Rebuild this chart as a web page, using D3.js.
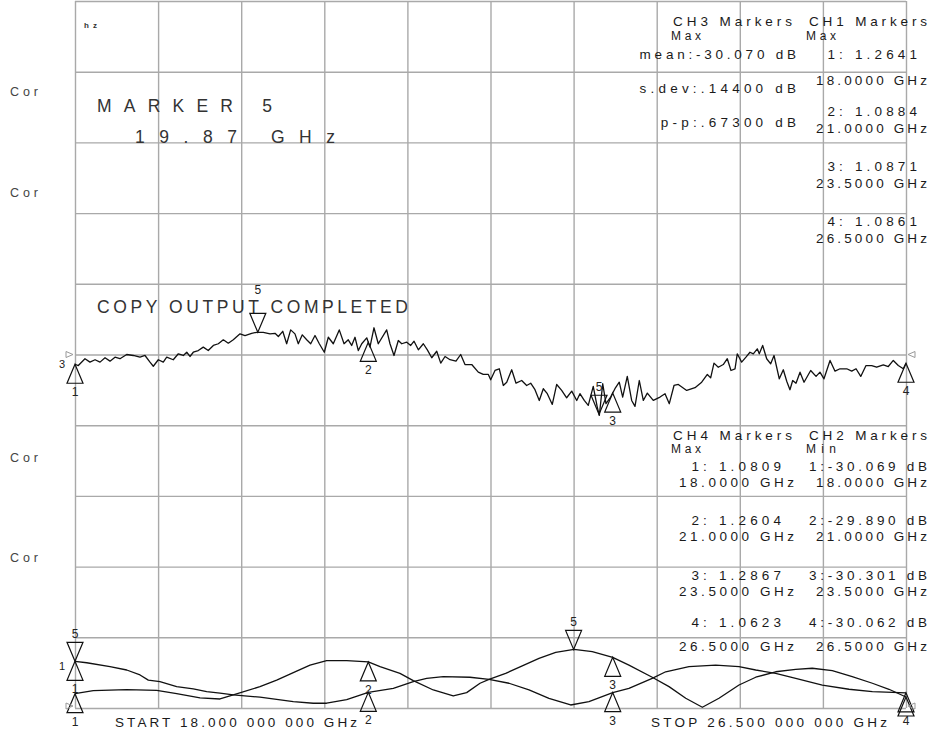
<!DOCTYPE html>
<html>
<head>
<meta charset="utf-8">
<script src="https://cdn.jsdelivr.net/npm/d3@7"></script>
<style>
  body { margin: 0; background: #fff; }
  text { font-family: "Liberation Sans", Arial, sans-serif; }
</style>
</head>
<body>
<script>
// sweep 18 - 26.5 GHz, two dB traces (CH3/CH2) and two SWR traces (CH1/CH4)
let ch3Freq = [18.000, 18.034, 18.102, 18.153, 18.205, 18.256, 18.307, 18.358, 18.409, 18.460,
	18.529, 18.596, 18.665, 18.716, 18.767, 18.801, 18.852, 18.903, 18.938, 19.005,
	19.057, 19.108, 19.143, 19.176, 19.210, 19.261, 19.312, 19.363, 19.415, 19.466,
	19.517, 19.568, 19.619, 19.688, 19.739, 19.807, 19.859, 19.926, 19.995, 20.046,
	20.080, 20.125, 20.165, 20.206, 20.250, 20.284, 20.325, 20.370, 20.411, 20.455,
	20.499, 20.550, 20.591, 20.642, 20.703, 20.752, 20.795, 20.830, 20.864, 20.898,
	20.933, 20.984, 21.017, 21.058, 21.102, 21.188, 21.222, 21.263, 21.307, 21.342,
	21.393, 21.434, 21.468, 21.512, 21.563, 21.604, 21.649, 21.700, 21.741, 21.785,
	21.836, 21.897, 21.945, 21.989, 22.058, 22.125, 22.176, 22.228, 22.252, 22.296,
	22.340, 22.381, 22.416, 22.467, 22.511, 22.569, 22.620, 22.661, 22.705, 22.749,
	22.790, 22.831, 22.882, 22.927, 22.978, 23.029, 23.081, 23.132, 23.165, 23.209,
	23.250, 23.301, 23.342, 23.363, 23.398, 23.431, 23.479, 23.523, 23.567, 23.602,
	23.649, 23.694, 23.728, 23.772, 23.813, 23.854, 23.915, 23.984, 24.035, 24.079,
	24.127, 24.171, 24.257, 24.342, 24.410, 24.468, 24.502, 24.536, 24.580, 24.631,
	24.672, 24.710, 24.751, 24.774, 24.819, 24.863, 24.904, 24.938, 24.979, 24.999,
	25.034, 25.075, 25.116, 25.150, 25.204, 25.245, 25.280, 25.313, 25.341, 25.375,
	25.416, 25.457, 25.525, 25.580, 25.620, 25.661, 25.723, 25.774, 25.825, 25.894,
	25.945, 25.989, 26.037, 26.091, 26.149, 26.200, 26.268, 26.319, 26.370, 26.421,
	26.472, 26.500];
let ch3Db = [-30.069, -30.078, -30.030, -30.054, -30.037, -30.054, -30.023, -30.047, -30.019, -30.030,
	-30.000, -30.007, -30.019, -30.007, -30.054, -30.083, -30.037, -30.054, -30.019, -30.037,
	-29.995, -30.007, -29.984, -30.014, -29.984, -29.972, -29.948, -29.972, -29.936, -29.924,
	-29.896, -29.920, -29.896, -29.854, -29.866, -29.850, -29.843, -29.843, -29.854, -29.850,
	-29.873, -29.836, -29.924, -29.826, -29.854, -29.924, -29.861, -29.896, -29.924, -29.866,
	-29.924, -29.984, -29.878, -29.924, -29.826, -29.924, -29.896, -29.936, -29.878, -29.972,
	-29.924, -29.882, -29.948, -29.811, -29.924, -29.826, -29.924, -30.007, -29.901, -29.924,
	-29.913, -29.936, -29.906, -29.967, -29.924, -29.967, -30.023, -29.977, -30.061, -30.014,
	-30.037, -30.047, -30.000, -30.071, -30.071, -30.125, -30.141, -30.141, -30.179, -30.113,
	-30.101, -30.219, -30.196, -30.108, -30.203, -30.184, -30.219, -30.203, -30.249, -30.325,
	-30.242, -30.277, -30.353, -30.212, -30.254, -30.306, -30.259, -30.325, -30.277, -30.325,
	-30.360, -30.226, -30.372, -30.431, -30.207, -30.348, -30.301, -30.242, -30.196, -30.301,
	-30.155, -30.325, -30.367, -30.184, -30.325, -30.273, -30.325, -30.301, -30.277, -30.348,
	-30.219, -30.212, -30.254, -30.235, -30.196, -30.141, -30.165, -30.061, -30.090, -30.071,
	-30.030, -30.113, -30.101, -29.995, -30.054, -30.019, -29.984, -29.995, -29.960, -29.995,
	-29.936, -30.030, -30.066, -30.007, -30.172, -30.108, -30.189, -30.249, -30.184, -30.203,
	-30.125, -30.196, -30.113, -30.155, -30.125, -30.172, -30.042, -30.118, -30.101, -30.101,
	-30.118, -30.101, -30.155, -30.078, -30.078, -30.090, -30.073, -30.085, -30.042, -30.078,
	-30.101, -30.062];

let ch1Freq = [18.000, 18.120, 18.358, 18.529, 18.665, 18.750, 18.869, 19.040, 19.210, 19.347,
	19.483, 19.619, 19.892, 20.233, 20.437, 20.574, 20.779, 21.000, 21.256, 21.460,
	21.597, 21.767, 22.040, 22.235, 22.439, 22.644, 22.848, 23.070, 23.257, 23.500,
	23.666, 23.904, 24.042, 24.280, 24.553, 24.792, 24.963, 25.167, 25.372, 25.644,
	25.917, 26.156, 26.500];
let ch1Swr = [1.2641, 1.256, 1.234, 1.215, 1.187, 1.158, 1.149, 1.121, 1.108, 1.093,
	1.084, 1.074, 1.061, 1.036, 1.027, 1.027, 1.047, 1.0884, 1.111, 1.149,
	1.168, 1.177, 1.174, 1.162, 1.140, 1.102, 1.055, 1.017, 1.036, 1.0871,
	1.111, 1.168, 1.205, 1.234, 1.243, 1.234, 1.215, 1.196, 1.168, 1.130,
	1.106, 1.093, 1.0861];

let ch4Freq = [18.000, 18.187, 18.529, 18.836, 19.040, 19.279, 19.483, 19.619, 19.892, 20.063,
	20.233, 20.404, 20.574, 20.779, 21.000, 21.120, 21.324, 21.460, 21.665, 21.869,
	22.006, 22.143, 22.235, 22.405, 22.575, 22.746, 22.917, 23.104, 23.291, 23.500,
	23.666, 23.904, 24.076, 24.247, 24.417, 24.587, 24.792, 24.963, 25.167, 25.372,
	25.541, 25.746, 25.950, 26.156, 26.326, 26.500];
let ch4Swr = [1.0809, 1.098, 1.104, 1.100, 1.081, 1.057, 1.051, 1.074, 1.121, 1.158,
	1.200, 1.243, 1.268, 1.268, 1.2604, 1.234, 1.196, 1.155, 1.102, 1.068,
	1.087, 1.140, 1.162, 1.196, 1.238, 1.281, 1.315, 1.332, 1.319, 1.2867,
	1.243, 1.174, 1.121, 1.055, 1.004, 1.055, 1.130, 1.174, 1.205, 1.219,
	1.225, 1.211, 1.177, 1.140, 1.106, 1.0623];

// marker readouts
let markerFreqs = [18.0, 21.0, 23.5, 26.5];
let ch1Readout = ["1.2641", "1.0884", "1.0871", "1.0861"];
let ch4Readout = ["1.0809", "1.2604", "1.2867", "1.0623"];
let ch2Readout = ["-30.069", "-29.890", "-30.301", "-30.062"];
let ch3Stats = ["mean:-30.070 dB", "s.dev:.14400 dB", "p-p:.67300 dB"];
let marker5 = { ch3: 19.87, ch2: 23.36, ch1: 18.0, ch4: 23.1 };
let startStop = ["START 18.000 000 000 GHz", "STOP 26.500 000 000 GHz"];

let width = 929, height = 731;
let gl = 75, gr = 906, gt = 1, gb = 708;

let svg = d3.select("body").append("svg")
	.attr("width", width)
	.attr("height", height);

svg.append("rect").attr("width", width).attr("height", height).attr("fill", "#fff");

let x = d3.scaleLinear().domain([18, 26.5]).range([gl, gr]);
let yDb = d3.scaleLinear().domain([-32.5, -27.5]).range([gb, gt]);   // 0.5 dB/div, ref -30 dB centre
let ySwr = d3.scaleLinear().domain([1, 5]).range([gb, gt]);          // 0.4 /div, ref 1 bottom

// 10 x 10 graticule
let divX = d3.scaleLinear().domain([0, 10]).range([gl, gr]);
let divY = d3.scaleLinear().domain([0, 10]).range([gb, gt]);

let gridX = svg.append("g")
	.attr("transform", "translate(0," + gb + ")")
	.call(d3.axisBottom(divX).ticks(10).tickSize(-(gb - gt)).tickFormat(""));
let gridY = svg.append("g")
	.attr("transform", "translate(" + gl + ",0)")
	.call(d3.axisLeft(divY).ticks(10).tickSize(-(gr - gl)).tickFormat(""));
[gridX, gridY].forEach((g) => {
	g.select(".domain").remove();
	g.selectAll("line").attr("stroke", "#a9a9a9").attr("stroke-width", 1.4);
});

// text helper: plotter-like fixed pitch, spread out with textLength
function label(str, px, py, opts) {
	opts = opts || {};
	let pitch = opts.pitch || 10.6;
	let w = opts.width || (str.length - 1) * pitch + 8;
	let x0 = opts.anchor === "end" ? px - w : px;
	return svg.append("text")
		.attr("x", x0)
		.attr("y", py)
		.attr("textLength", w)
		.attr("lengthAdjust", "spacing")
		.attr("font-size", opts.size || 13.5)
		.attr("fill", opts.fill || "#1a1a1a")
		.text(str);
}

// left annotations
[96, 197, 462, 562].forEach((yy) => {
	label("Cor", 10, yy, { width: 28, size: 12.5, fill: "#444" });
});
label("hz", 84, 28, { width: 13, size: 8, fill: "#333" }).attr("font-weight", "bold");

// big messages
label("MARKER 5", 97, 112, { width: 175, size: 17.5, fill: "#333" });
label("19.87 GHz", 135, 143, { width: 200, size: 17.5, fill: "#333" });
label("COPY OUTPUT COMPLETED", 97, 313, { width: 311, size: 17.5, fill: "#333" });

// traces
let line = d3.line().x((d) => x(d[0]));
function trace(fs, vs, yScale) {
	let pts = fs.map((f, i) => [f, vs[i]]);
	svg.append("path")
		.datum(pts)
		.attr("fill", "none")
		.attr("stroke", "#111")
		.attr("stroke-width", 1.3)
		.attr("stroke-linejoin", "round")
		.attr("d", line.y((d) => yScale(d[1])));
}
trace(ch3Freq, ch3Db, yDb);
trace(ch1Freq, ch1Swr, ySwr);
trace(ch4Freq, ch4Swr, ySwr);

// value of a trace at a frequency
function valueAt(fs, vs, f) {
	let i = d3.bisectLeft(fs, f);
	if (i <= 0) return vs[0];
	if (i >= fs.length) return vs[vs.length - 1];
	let t = (f - fs[i - 1]) / (fs[i] - fs[i - 1]);
	return vs[i - 1] + t * (vs[i] - vs[i - 1]);
}

let placedLabels = [];
function marker(f, v, yScale, num, down, lift) {
	let px = x(f), py = yScale(v);
	let h = 19, hw = 8;
	let by = down ? py - h : py + h;
	svg.append("path")
		.attr("d", "M" + px + "," + py + "L" + (px - hw) + "," + by + "L" + (px + hw) + "," + by + "Z")
		.attr("fill", "none")
		.attr("stroke", "#111")
		.attr("stroke-width", 1.2);
	let ly = down ? by - 4 - (lift || 0) : by + 13;
	// coincident markers share one number
	if (placedLabels.some((p) => p[0] === num && Math.abs(p[1] - px) < 4 && Math.abs(p[2] - ly) < 8)) return;
	placedLabels.push([num, px, ly]);
	svg.append("text")
		.attr("x", px)
		.attr("y", ly)
		.attr("text-anchor", "middle")
		.attr("font-size", 12)
		.attr("fill", "#222")
		.text(num);
}

markerFreqs.forEach((f, i) => {
	marker(f, valueAt(ch3Freq, ch3Db, f), yDb, i + 1, false);
	marker(f, valueAt(ch1Freq, ch1Swr, f), ySwr, i + 1, false);
	marker(f, valueAt(ch4Freq, ch4Swr, f), ySwr, i + 1, false);
});
// the CH3 marker number sits above the "COPY OUTPUT" message
marker(marker5.ch3, valueAt(ch3Freq, ch3Db, marker5.ch3), yDb, 5, true, 15);
marker(marker5.ch2, valueAt(ch3Freq, ch3Db, marker5.ch2), yDb, 5, true);
marker(marker5.ch1, valueAt(ch1Freq, ch1Swr, marker5.ch1), ySwr, 5, true);
marker(marker5.ch4, valueAt(ch4Freq, ch4Swr, marker5.ch4), ySwr, 5, true);

// reference position arrows and channel numbers
function refArrow(px, py, left) {
	let d = left
		? "M" + (px - 9) + "," + (py - 3) + "L" + (px - 2) + "," + py + "L" + (px - 9) + "," + (py + 3) + "Z"
		: "M" + (px + 9) + "," + (py - 3) + "L" + (px + 2) + "," + py + "L" + (px + 9) + "," + (py + 3) + "Z";
	svg.append("path").attr("d", d).attr("fill", "none").attr("stroke", "#999").attr("stroke-width", 1);
}
refArrow(gl, yDb(-30), true);
refArrow(gr, yDb(-30), false);
refArrow(gl, ySwr(1) - 2, true);
refArrow(gr, ySwr(1) - 2, false);
label("3", 59, 368, { width: 7, size: 11 });
label("1", 59, 670, { width: 6, size: 11 });

// marker readouts, upper half
label("CH3 Markers", 673, 26, { width: 119 });
label("Max", 671, 40, { width: 30, size: 12 });
let statY = [59, 93, 127];
ch3Stats.forEach((s, i) => label(s, 796, statY[i], { anchor: "end" }));

label("CH1 Markers", 809, 26, { width: 118 });
label("Max", 806, 40, { width: 30, size: 12 });
let ch1ValY = [59, 116, 171, 226], ch1FrqY = [85, 133, 188, 243];
markerFreqs.forEach((f, i) => {
	label((i + 1) + ": " + ch1Readout[i], 917, ch1ValY[i], { anchor: "end", pitch: 10.2 });
	label(f.toFixed(4) + " GHz", 927, ch1FrqY[i], { anchor: "end", width: 111 });
});

// marker readouts, lower half
label("CH4 Markers", 673, 440, { width: 119 });
label("Max", 671, 453, { width: 30, size: 12 });
label("CH2 Markers", 809, 440, { width: 118 });
label("Min", 806, 453, { width: 30, size: 12 });
let lowValY = [471, 525, 580, 627], lowFrqY = [487, 541, 596, 651];
markerFreqs.forEach((f, i) => {
	label((i + 1) + ": " + ch4Readout[i], 781, lowValY[i], { anchor: "end", pitch: 10.2 });
	label(f.toFixed(4) + " GHz", 794, lowFrqY[i], { anchor: "end", width: 115 });
	label((i + 1) + ":" + ch2Readout[i] + " dB", 809, lowValY[i], { width: 118 });
	label(f.toFixed(4) + " GHz", 927, lowFrqY[i], { anchor: "end", width: 111 });
});

// start / stop
label(startStop[0], 115, 727, { width: 242 });
label(startStop[1], 651, 727, { width: 236 });
</script>
</body>
</html>
